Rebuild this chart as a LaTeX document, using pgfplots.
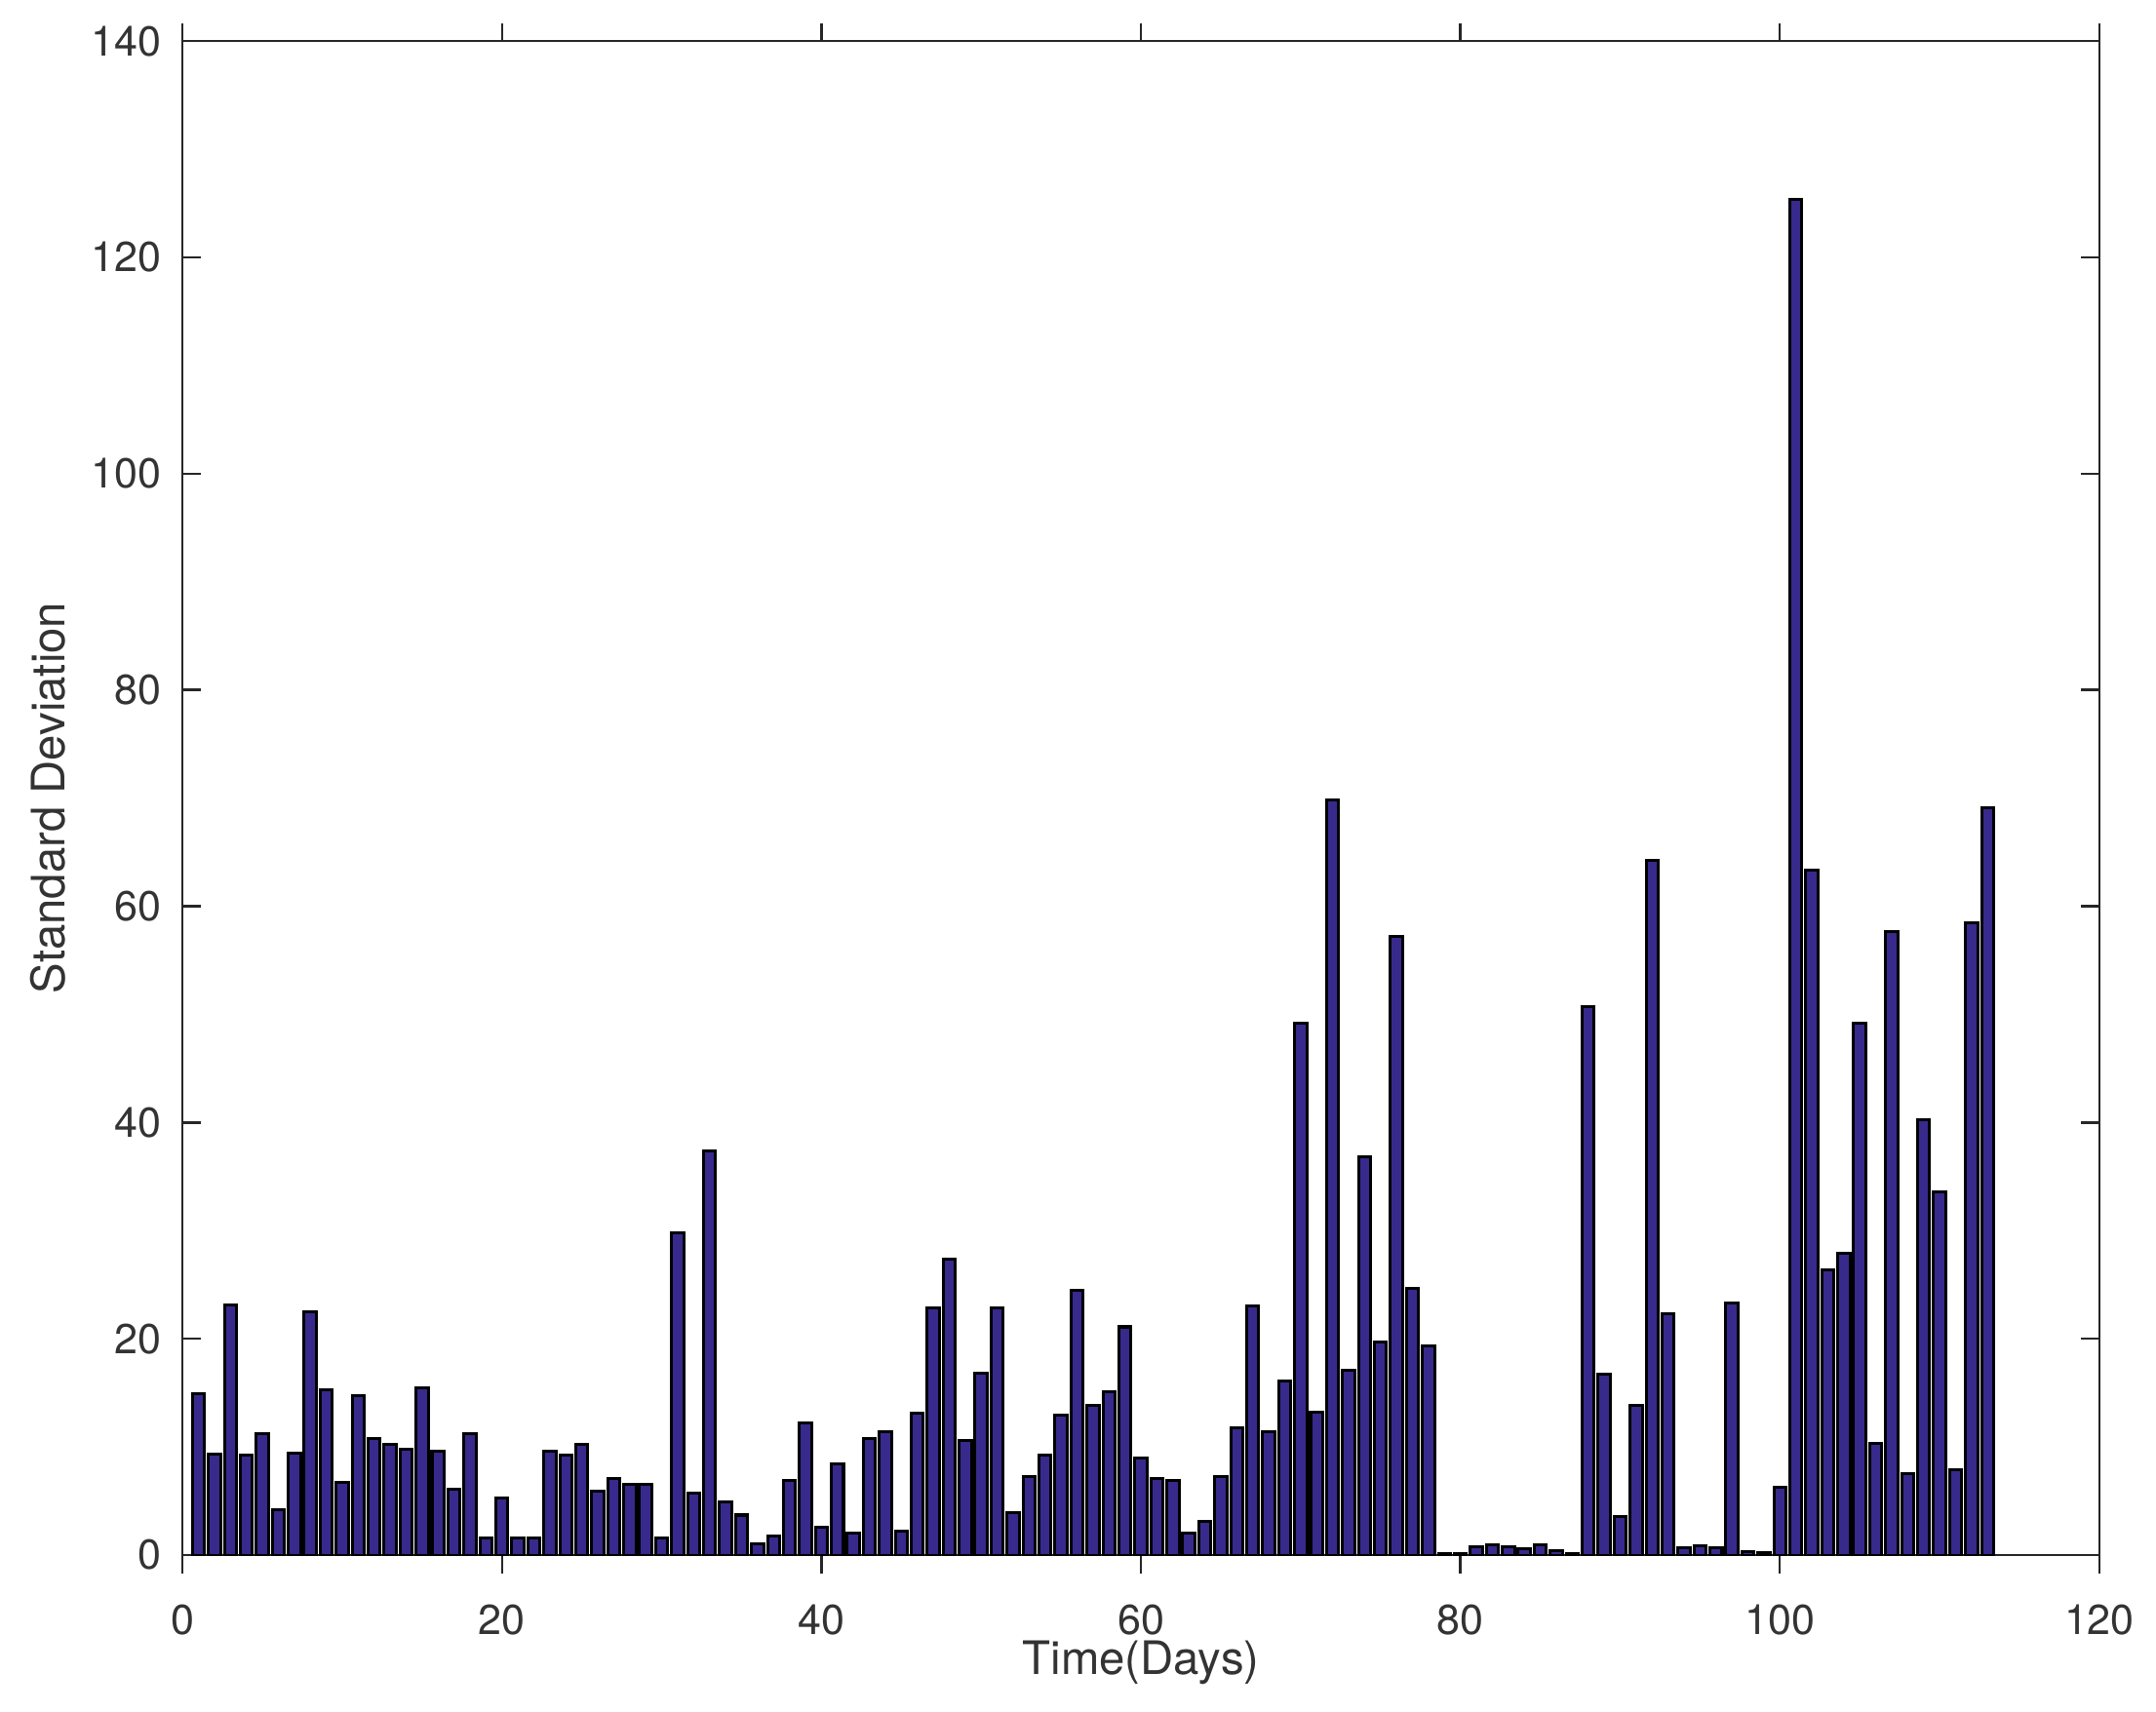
\documentclass[border=0pt]{standalone}
\usepackage{fontspec}
\setmainfont{TeX Gyre Heros}
\usepackage{pgfplots}
\pgfplotsset{compat=1.18}
\usepackage{pgfplotstable}

\definecolor{barpurple}{RGB}{56,41,140}

\pgfplotstableread{
day sd
1 14.9
2 9.3
3 23.1
4 9.2
5 11.2
6 4.2
7 9.4
8 22.5
9 15.3
10 6.7
11 14.7
12 10.8
13 10.2
14 9.8
15 15.5
16 9.6
17 6.1
18 11.2
19 1.6
20 5.3
21 1.6
22 1.6
23 9.6
24 9.2
25 10.2
26 5.9
27 7.1
28 6.5
29 6.5
30 1.6
31 29.8
32 5.7
33 37.4
34 4.9
35 3.7
36 1.0
37 1.8
38 6.9
39 12.2
40 2.6
41 8.4
42 2.0
43 10.8
44 11.4
45 2.2
46 13.1
47 22.9
48 27.4
49 10.6
50 16.8
51 22.9
52 3.9
53 7.3
54 9.2
55 12.9
56 24.5
57 13.8
58 15.1
59 21.1
60 9.0
61 7.1
62 6.9
63 2.0
64 3.1
65 7.3
66 11.8
67 23.0
68 11.4
69 16.1
70 49.2
71 13.2
72 69.8
73 17.1
74 36.8
75 19.7
76 57.2
77 24.7
78 19.3
79 0.15
80 0.15
81 0.8
82 0.95
83 0.8
84 0.6
85 0.95
86 0.4
87 0.15
88 50.7
89 16.7
90 3.6
91 13.8
92 64.2
93 22.3
94 0.7
95 0.9
96 0.7
97 23.3
98 0.3
99 0.2
100 6.25
101 125.4
102 63.3
103 26.4
104 27.9
105 49.2
106 10.3
107 57.7
108 7.5
109 40.3
110 33.6
111 7.9
112 58.5
113 69.1
}\sddata

\begin{document}
\begin{tikzpicture}
\begin{axis}[
    name=ax,
    scale only axis,
    width=457pt, height=361pt,
    xmin=0, xmax=120, ymin=0, ymax=140,
    xtick={0,20,...,120},
    ytick={0,20,...,140},
    tick align=inside,
    tick pos=both,
    major tick length=4.3pt,
    axis line style={line width=0.55pt, black!85},
    every tick/.style={line width=0.55pt, black!85},
    tick label style={font=\fontsize{10}{12}\selectfont, text=black!80},
    /pgf/number format/assume math mode=true,
    xticklabel style={yshift=-4pt},
    yticklabel style={xshift=-1.5pt},
    xlabel={Time(Days)},
    ylabel={Standard Deviation},
    label style={font=\fontsize{11}{13}\selectfont, text=black!80},
    xlabel style={at={(axis description cs:0.5,-0.071)}, anchor=center},
    ylabel style={at={(axis description cs:-0.070,0.5)}, anchor=center},
    ybar,
    bar width=0.76,
]
\addplot[fill=barpurple, draw=black, line width=0.7pt] table[x=day, y=sd] {\sddata};
\end{axis}
\path (ax.south west) ++(-43.5pt,-37.2pt);
\path (ax.north east) ++(13.5pt,9.8pt);
\end{tikzpicture}
\end{document}
